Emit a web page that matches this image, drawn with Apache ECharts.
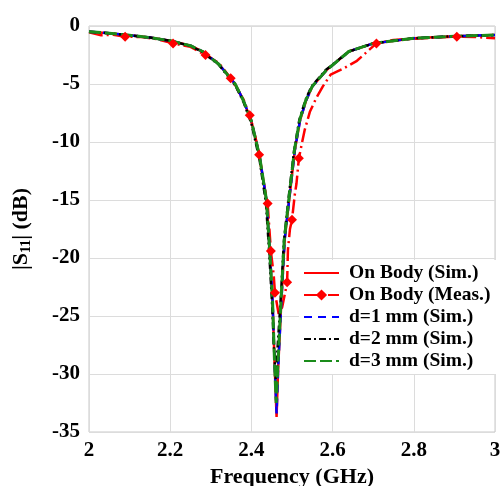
<!DOCTYPE html>
<html><head><meta charset="utf-8">
<script src="https://cdn.jsdelivr.net/npm/echarts@6/dist/echarts.min.js"></script>
<style>html,body{margin:0;padding:0;background:#fff}#c{width:501px;height:486px}</style>
</head><body><div id="c"></div>
<script>
var xTicks = [2, 2.2, 2.4, 2.6, 2.8, 3];
var yTicks = [0, -5, -10, -15, -20, -25, -30, -35];
var seriesNames = ['On Body (Sim.)', 'On Body (Meas.)', 'd=1 mm (Sim.)', 'd=2 mm (Sim.)', 'd=3 mm (Sim.)'];

var onBodySim = [[2.00,-0.5],[2.05,-0.62],[2.10,-0.8],[2.15,-1.0],[2.20,-1.27],[2.25,-1.7],[2.28,-2.2],[2.32,-3.3],[2.36,-5.0],[2.38,-6.4],[2.40,-8.2],[2.42,-11.2],[2.437,-15],[2.445,-19.3],[2.452,-23.6],[2.457,-29],[2.462,-33.7],[2.466,-29.4],[2.474,-23.6],[2.482,-18.4],[2.493,-15],[2.507,-10.7],[2.52,-8.1],[2.535,-6.4],[2.55,-5.2],[2.585,-3.8],[2.64,-2.2],[2.70,-1.5],[2.80,-1.06],[2.90,-0.88],[3.00,-0.78]];
var onBodyMeas = [[2.00,-0.55],[2.03,-0.8],[2.06,-0.75],[2.089,-0.92],[2.13,-0.95],[2.17,-1.15],[2.207,-1.5],[2.25,-1.8],[2.287,-2.5],[2.32,-3.2],[2.349,-4.5],[2.38,-6.3],[2.396,-7.7],[2.41,-9.6],[2.419,-11.1],[2.43,-13.5],[2.44,-15.3],[2.448,-19.4],[2.455,-21.5],[2.458,-23.0],[2.468,-25.0],[2.476,-24.2],[2.483,-23],[2.488,-22.1],[2.49,-19.3],[2.495,-17.5],[2.50,-16.7],[2.507,-14.5],[2.511,-13.6],[2.517,-11.4],[2.525,-10],[2.531,-9.0],[2.544,-7.4],[2.56,-6.2],[2.576,-5.2],[2.595,-4.2],[2.625,-3.7],[2.66,-3.0],[2.708,-1.5],[2.75,-1.2],[2.80,-1.1],[2.85,-1.0],[2.906,-0.92],[2.95,-0.95],[3.00,-1.05]];
var measMarkers = [2.089, 2.207, 2.287, 2.349, 2.396, 2.419, 2.44, 2.448, 2.458, 2.488, 2.50, 2.517, 2.708, 2.906];
var d1Sim = [[2.00,-0.5],[2.05,-0.62],[2.10,-0.8],[2.15,-1.0],[2.20,-1.27],[2.25,-1.7],[2.28,-2.2],[2.32,-3.3],[2.36,-5.0],[2.38,-6.4],[2.40,-8.2],[2.42,-11.2],[2.437,-15],[2.445,-19.3],[2.452,-23.6],[2.457,-29],[2.462,-33.4],[2.466,-29.4],[2.474,-23.6],[2.482,-18.4],[2.493,-15],[2.507,-10.7],[2.52,-8.1],[2.535,-6.4],[2.55,-5.2],[2.585,-3.8],[2.64,-2.2],[2.70,-1.5],[2.80,-1.06],[2.90,-0.88],[3.00,-0.78]];
var d2Sim = [[2.00,-0.5],[2.05,-0.62],[2.10,-0.8],[2.15,-1.0],[2.20,-1.27],[2.25,-1.72],[2.28,-2.25],[2.32,-3.35],[2.36,-5.1],[2.38,-6.5],[2.40,-8.4],[2.42,-11.5],[2.436,-15.3],[2.444,-19.6],[2.451,-24],[2.456,-28],[2.46,-30.5],[2.464,-28],[2.472,-23.6],[2.48,-18.6],[2.491,-15],[2.505,-10.8],[2.518,-8.1],[2.533,-6.4],[2.548,-5.2],[2.583,-3.8],[2.64,-2.2],[2.70,-1.5],[2.80,-1.06],[2.90,-0.88],[3.00,-0.78]];
var d3Sim = [[2.00,-0.5],[2.05,-0.62],[2.10,-0.8],[2.15,-1.0],[2.20,-1.27],[2.25,-1.7],[2.28,-2.2],[2.32,-3.3],[2.36,-5.0],[2.38,-6.4],[2.40,-8.2],[2.42,-11.2],[2.437,-15],[2.445,-19.3],[2.452,-23.6],[2.457,-29],[2.461,-32.5],[2.465,-29.4],[2.473,-23.6],[2.481,-18.4],[2.492,-15],[2.506,-10.7],[2.519,-8.1],[2.534,-6.4],[2.55,-5.2],[2.585,-3.8],[2.64,-2.2],[2.70,-1.5],[2.80,-1.06],[2.90,-0.88],[3.00,-0.78]];

var measData = onBodyMeas.map(function (p) {
  return measMarkers.indexOf(p[0]) >= 0 ? {value: p} : {value: p, symbol: 'none'};
});

var font = '"Liberation Serif", "Times New Roman", serif';
var hidden = {opacity: 0};
var chart = echarts.init(document.getElementById('c'), null, {renderer: 'canvas'});
chart.setOption({
  animation: false,
  backgroundColor: '#fff',
  grid: {left: 89, right: 6, top: 26, bottom: 54, show: true, borderColor: '#c8c8c8', borderWidth: 1,
    containLabel: false, outerBoundsMode: 'none'},
  legend: {
    data: [
      {name: seriesNames[0], itemStyle: hidden},
      {name: seriesNames[1]},
      {name: seriesNames[2], itemStyle: hidden},
      {name: seriesNames[3], itemStyle: hidden},
      {name: seriesNames[4], itemStyle: hidden}
    ],
    orient: 'vertical', left: 299, top: 260,
    itemWidth: 35, itemHeight: 14, itemGap: 0, padding: [2, 6, 2, 4],
    backgroundColor: '#fff',
    textStyle: {fontFamily: font, fontWeight: 'bold', fontSize: 19.5, lineHeight: 22, color: '#000', padding: [0, 0, 0, 5]}
  },
  xAxis: {
    type: 'value', min: 2, max: 3, interval: 0.2,
    axisLine: {show: false}, axisTick: {show: false},
    splitLine: {lineStyle: {color: '#dcdcdc', width: 1}},
    axisLabel: {margin: 8, fontFamily: font, fontWeight: 'bold', fontSize: 21, color: '#000',
      formatter: function (v) { return xTicks.indexOf(Math.round(v * 10) / 10) >= 0 ? String(Math.round(v * 10) / 10) : ''; }},
    name: 'Frequency (GHz)', nameLocation: 'middle', nameGap: 29,
    nameTextStyle: {fontFamily: font, fontWeight: 'bold', fontSize: 22, color: '#000'}
  },
  yAxis: {
    type: 'value', min: -35, max: 0, interval: 5,
    axisLine: {show: false}, axisTick: {show: false},
    splitLine: {lineStyle: {color: '#dcdcdc', width: 1}},
    axisLabel: {margin: 9, fontFamily: font, fontWeight: 'bold', fontSize: 21, color: '#000',
      formatter: function (v) { return yTicks.indexOf(v) >= 0 ? String(v) : ''; }},
    name: '|S{sub|11}| (dB)', nameLocation: 'middle', nameGap: 56, nameRotate: 90,
    nameTextStyle: {fontFamily: font, fontWeight: 'bold', fontSize: 22, color: '#000',
      rich: {sub: {fontFamily: font, fontWeight: 'bold', fontSize: 14, color: '#000', verticalAlign: 'bottom', padding: [10, 0, 0, 0]}}}
  },
  series: [
    {name: seriesNames[0], type: 'line', data: onBodySim, symbol: 'none',
      lineStyle: {color: '#ff0000', width: 2.5}, itemStyle: {color: '#ff0000'}},
    {name: seriesNames[1], type: 'line', data: measData, symbol: 'diamond', symbolSize: 10,
      lineStyle: {color: '#ff0000', width: 2.5, type: [14, 4, 2, 4]}, itemStyle: {color: '#ff0000'}},
    {name: seriesNames[2], type: 'line', data: d1Sim, symbol: 'none',
      lineStyle: {color: '#0000ff', width: 2.5, type: [8, 6]}, itemStyle: {color: '#0000ff'}},
    {name: seriesNames[3], type: 'line', data: d2Sim, symbol: 'none',
      lineStyle: {color: '#000000', width: 2.5, type: [7, 3, 2, 3]}, itemStyle: {color: '#000'}},
    {name: seriesNames[4], type: 'line', data: d3Sim, symbol: 'none',
      lineStyle: {color: '#1a8c1a', width: 3, type: [12, 4]}, itemStyle: {color: '#1a8c1a'}}
  ]
});
</script></body></html>
